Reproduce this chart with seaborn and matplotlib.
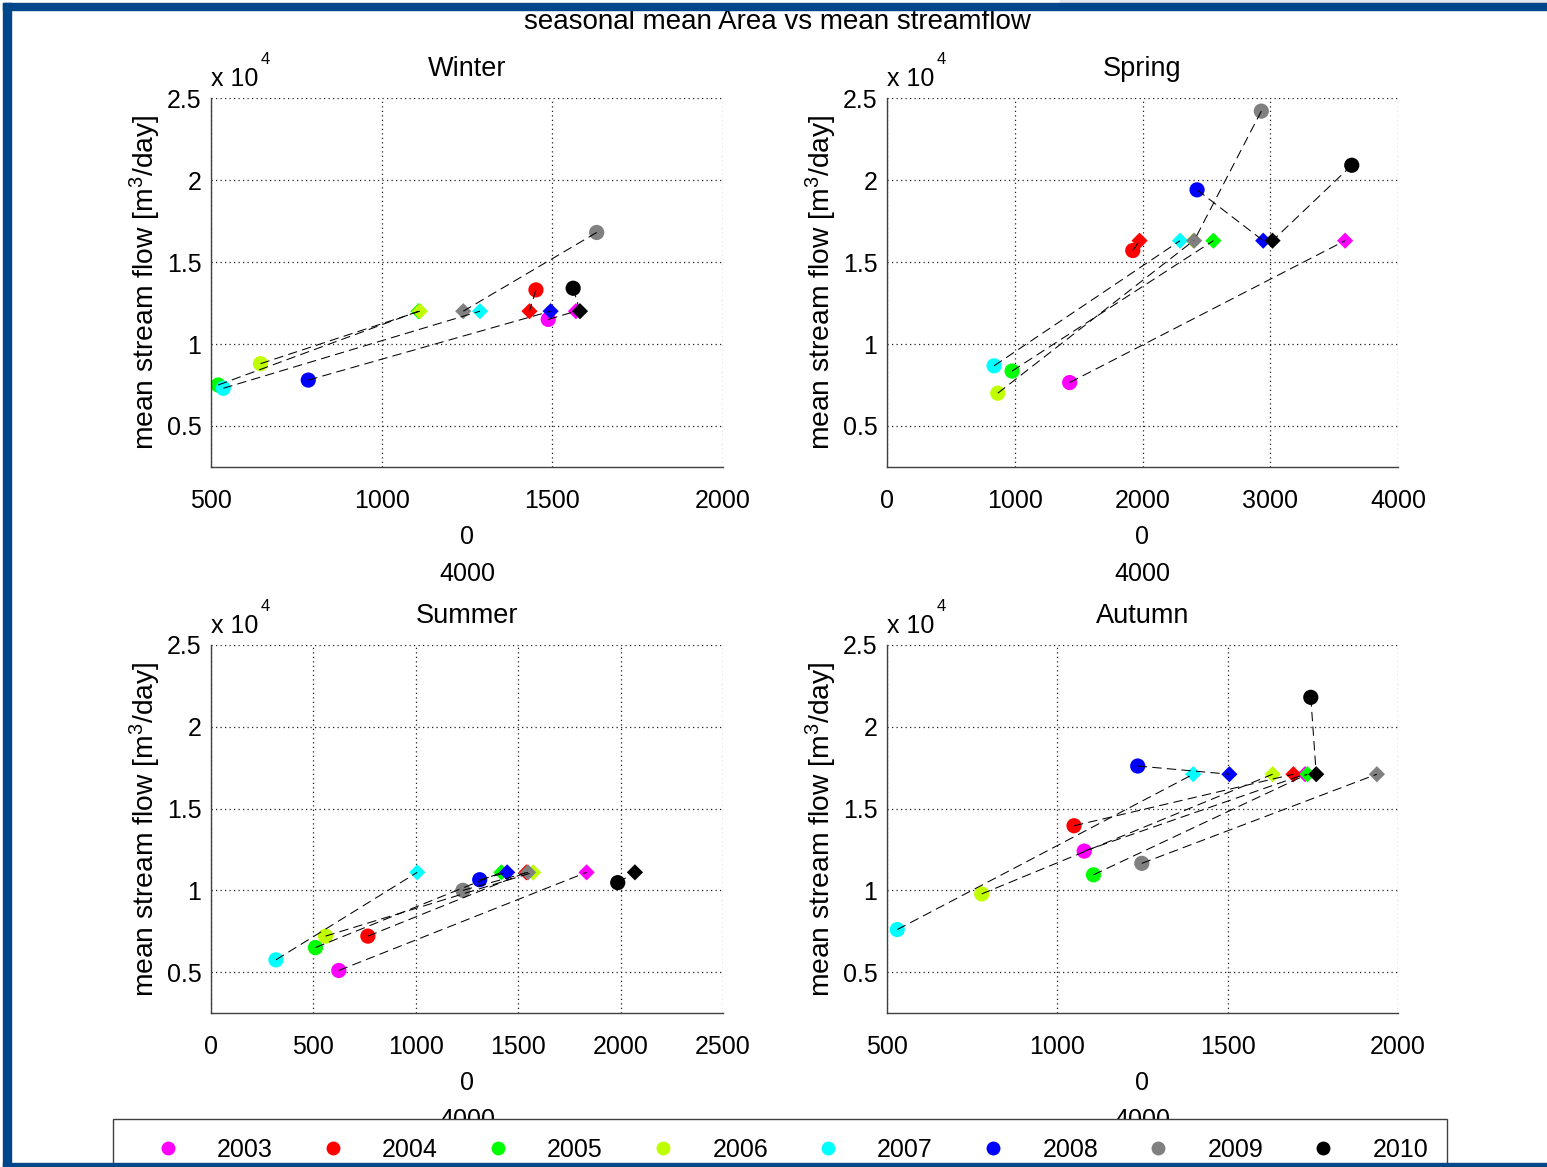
import numpy as np
import pandas as pd
import matplotlib
matplotlib.use("Agg")
import matplotlib.pyplot as plt
import seaborn as sns
from matplotlib.lines import Line2D
from matplotlib.patches import Rectangle
from matplotlib.ticker import FuncFormatter

# ---------------- data ----------------
years = ["2003", "2004", "2005", "2006", "2007", "2008", "2009", "2010"]
year_colors = ["#ff00ff", "#ff0000", "#00ff00", "#bfff00",
               "#00ffff", "#0000ff", "#808080", "#000000"]
seasons = ["Winter", "Spring", "Summer", "Autumn"]

winter_circle_x = [1488, 1452, 521, 645, 536, 785, 1630, 1561]
winter_circle_y = [11500, 13300, 7500, 8800, 7300, 7800, 16800, 13400]
winter_diamond_x = [1569, 1433, 1108, 1112, 1288, 1495, 1239, 1581]
winter_diamond_y = [12000, 12000, 12000, 12000, 12000, 12000, 12000, 12000]

spring_circle_x = [1430, 1924, 979, 867, 838, 2427, 2930, 3638]
spring_circle_y = [7650, 15700, 8350, 7000, 8670, 19400, 24200, 20900]
spring_diamond_x = [3586, 1977, 2555, 2400, 2294, 2945, 2404, 3018]
spring_diamond_y = [16300, 16300, 16300, 16300, 16300, 16300, 16300, 16300]

summer_circle_x = [624, 766, 510, 559, 317, 1312, 1230, 1986]
summer_circle_y = [5100, 7200, 6500, 7200, 5750, 10650, 10000, 10470]
summer_diamond_x = [1834, 1540, 1418, 1573, 1007, 1446, 1548, 2070]
summer_diamond_y = [11100, 11100, 11100, 11100, 11100, 11100, 11100, 11100]

autumn_circle_x = [1079, 1049, 1106, 778, 530, 1236, 1248, 1744]
autumn_circle_y = [12400, 13950, 10950, 9780, 7600, 17600, 11650, 21800]
autumn_diamond_x = [1727, 1693, 1734, 1632, 1399, 1505, 1938, 1760]
autumn_diamond_y = [17100, 17100, 17100, 17100, 17100, 17100, 17100, 17100]

x_ticks = {
    "Winter": [500, 1000, 1500, 2000],
    "Spring": [0, 1000, 2000, 3000, 4000],
    "Summer": [0, 500, 1000, 1500, 2000, 2500],
    "Autumn": [500, 1000, 1500, 2000],
}
y_ticks = [5000, 10000, 15000, 20000, 25000]
y_limits = (2500, 25000)

season_data = {
    "Winter": (winter_circle_x, winter_circle_y, winter_diamond_x, winter_diamond_y),
    "Spring": (spring_circle_x, spring_circle_y, spring_diamond_x, spring_diamond_y),
    "Summer": (summer_circle_x, summer_circle_y, summer_diamond_x, summer_diamond_y),
    "Autumn": (autumn_circle_x, autumn_circle_y, autumn_diamond_x, autumn_diamond_y),
}


def build_frame(season):
    cx, cy, dx, dy = season_data[season]
    rows = []
    for i, yr in enumerate(years):
        rows.append(dict(year=yr, kind="circle", x=cx[i], y=cy[i]))
        rows.append(dict(year=yr, kind="diamond", x=dx[i], y=dy[i]))
    return pd.DataFrame(rows)


# ---------------- style ----------------
sns.set_theme(style="white")
plt.rcParams.update({
    "font.family": ["Liberation Sans", "DejaVu Sans"],
    "mathtext.fontset": "custom",
    "mathtext.rm": "Liberation Sans",
    "mathtext.default": "regular",
    "axes.edgecolor": "#404040",
    "text.color": "black",
    "axes.labelcolor": "black",
    "xtick.color": "black",
    "ytick.color": "black",
})

W, H = 1547, 1167
fig = plt.figure(figsize=(W / 100, H / 100), dpi=100)
fig.patch.set_facecolor("white")

palette = dict(zip(years, year_colors))


def fx(px):
    return px / W


def fy(py):
    return 1 - py / H


axes_px = {
    "Winter": (211, 98, 723, 467),
    "Spring": (887, 98, 1398, 467),
    "Summer": (211, 645, 723, 1013),
    "Autumn": (887, 645, 1398, 1013),
}

for season in seasons:
    l, t, r, b = axes_px[season]
    ax = fig.add_axes([fx(l), fy(b), fx(r) - fx(l), fy(t) - fy(b)])
    df = build_frame(season)

    sns.scatterplot(data=df, x="x", y="y", hue="year", hue_order=years,
                    palette=palette, style="kind",
                    markers={"circle": "o", "diamond": "D"},
                    size="kind", sizes={"circle": 120, "diamond": 68},
                    linewidth=0, legend=False, ax=ax, zorder=2)
    sns.lineplot(data=df, x="x", y="y", units="year", estimator=None,
                 sort=False, color="black", lw=0.75,
                 linestyle=(0, (9, 5)), legend=False, ax=ax, zorder=3)

    xt = x_ticks[season]
    ax.set_xlim(xt[0], xt[-1])
    ax.set_xticks(xt)
    ax.set_ylim(*y_limits)
    ax.set_yticks(y_ticks)
    ax.yaxis.set_major_formatter(FuncFormatter(lambda v, p: f"{v / 1e4:g}"))

    ax.grid(True, linestyle=(0, (1, 2.6)), color="#222222", lw=0.9)
    ax.set_axisbelow(True)
    for s in ["top", "right"]:
        ax.spines[s].set_visible(False)
    for s in ["left", "bottom"]:
        ax.spines[s].set_color("#404040")
        ax.spines[s].set_linewidth(1.0)

    ax.tick_params(axis="both", which="major", direction="in", length=5,
                   width=0.8, color="#404040", labelsize=18)
    ax.tick_params(axis="x", pad=16)
    ax.tick_params(axis="y", pad=7)

    ax.set_title(season, fontsize=19.5, pad=15.5)
    ax.set_ylabel(r"mean stream flow [m$^3$/day]", fontsize=20.3, labelpad=2.5)
    ax.set_xlabel("0\n4000", fontsize=18, labelpad=8.5, linespacing=1.68)

    ax.annotate("x 10", xy=(0, 1), xycoords="axes fraction",
                xytext=(0, 13.5), textcoords="offset points",
                ha="left", va="center", fontsize=18)
    ax.annotate("4", xy=(0, 1), xycoords="axes fraction",
                xytext=(36, 27.5), textcoords="offset points",
                ha="left", va="center", fontsize=12)

fig.text(777 / W, fy(22), "seasonal mean Area vs mean streamflow",
         ha="center", va="center", fontsize=20)

handles = [Line2D([], [], ls="", marker="o", markersize=10,
                  markerfacecolor=c, markeredgewidth=0, color=c)
           for c in year_colors]
leg = fig.legend(handles, years, loc="upper left",
                 bbox_to_anchor=(fx(113), fy(1119)), ncol=8,
                 frameon=True, fancybox=False, framealpha=1,
                 edgecolor="#404040", fontsize=18, borderpad=0.75,
                 handlelength=2.9, handletextpad=0.51, columnspacing=0.96,
                 borderaxespad=0)
leg.get_frame().set_linewidth(1.0)

# window frame (blue border)
frame_color = "#00468b"
fig.add_artist(Rectangle((fx(3), 0), fx(8), fy(3), transform=fig.transFigure,
                         color=frame_color, zorder=20))
fig.add_artist(Rectangle((fx(3), fy(10)), 1 - fx(3), fy(3) - fy(10),
                         transform=fig.transFigure, color=frame_color, zorder=20))
fig.add_artist(Rectangle((fx(3), 0), 1 - fx(3), fy(1163),
                         transform=fig.transFigure, color=frame_color, zorder=20))
fig.add_artist(Rectangle((fx(1060), fy(3)), 1 - fx(1060), 1 - fy(3),
                         transform=fig.transFigure, color="#e4e7ec", zorder=19))

fig.savefig("out.png", dpi=100, facecolor="white")
